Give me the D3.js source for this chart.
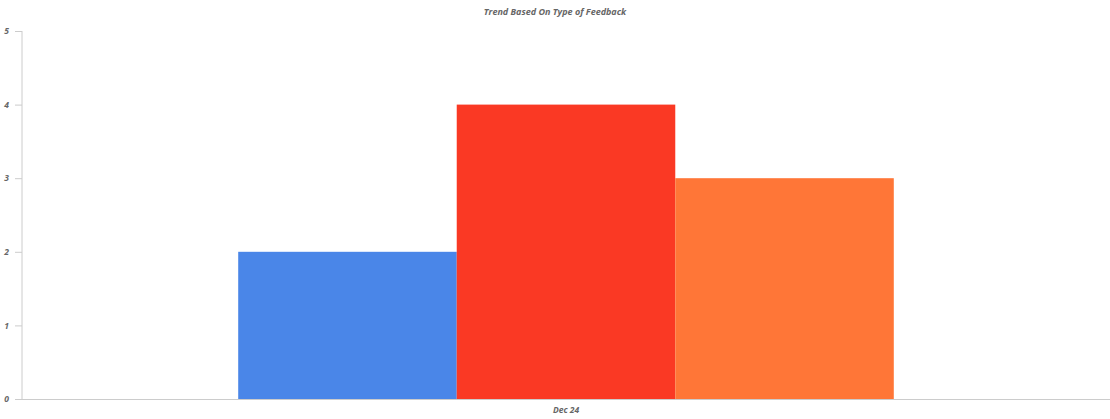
<!DOCTYPE html>
<html>
<head>
<meta charset="utf-8">
<script src="https://cdn.jsdelivr.net/npm/d3@7"></script>
<style>
  body { margin: 0; background: #fff; }
  text { font-family: "Open Sans", sans-serif; font-style: italic; font-weight: bold; fill: #666; }
</style>
</head>
<body>
<div id="graph"></div>
<script>
// chart data
const categories = ['Dec 24'];
const seriesNames = ['Type A', 'Type B', 'Type C'];
const seriesValues = [[2], [4], [3]];
const seriesColors = ['#4a86e8', '#fa3924', '#ff7637'];
const yTicks = [0, 1, 2, 3, 4, 5];

const svgWidth = 1110;
const svgHeight = 419;
const margin = { top: 31, right: 0, bottom: 20, left: 22 };

const svg = d3.select('#graph')
  .append('svg')
  .attr('width', svgWidth)
  .attr('height', svgHeight);

svg.append('text')
  .attr('x', 555)
  .attr('y', 15)
  .attr('text-anchor', 'middle')
  .style('font-size', '9px')
  .text('Trend Based On Type of Feedback');

const x0 = d3.scaleBand()
  .domain(categories)
  .range([margin.left, svgWidth - margin.right])
  .padding(0.248);

const x1 = d3.scaleBand()
  .domain(seriesNames)
  .range([0, x0.bandwidth()]);

const y = d3.scaleLinear()
  .domain([0, 5])
  .range([svgHeight - margin.bottom, margin.top]);

// bars
categories.forEach((c, ci) => {
  svg.append('g')
    .selectAll('rect')
    .data(seriesNames)
    .join('rect')
    .attr('x', s => x0(c) + x1(s))
    .attr('width', x1.bandwidth())
    .attr('y', (s, i) => y(seriesValues[i][ci]))
    .attr('height', (s, i) => y(0) - y(seriesValues[i][ci]))
    .attr('fill', (s, i) => seriesColors[i]);
});

// y axis
const yAxis = svg.append('g')
  .attr('transform', `translate(${margin.left},0)`)
  .call(d3.axisLeft(y).tickValues(yTicks).tickSize(7).tickPadding(6).tickFormat(d3.format('d')));
yAxis.select('.domain').attr('stroke', '#ccc').attr('d', `M0,${y(5)}V${y(0)}`);
yAxis.selectAll('.tick line').attr('stroke', '#ccc');
yAxis.selectAll('.tick text').style('font-size', '8.5px').attr('fill', '#666');

// x axis
const xAxis = svg.append('g')
  .attr('transform', `translate(0,${y(0)})`)
  .call(d3.axisBottom(x0).tickSize(0).tickPadding(8));
xAxis.select('.domain').attr('stroke', '#ccc').attr('d', `M15,0.5H${svgWidth}`);
xAxis.selectAll('.tick text').style('font-size', '8.5px').attr('fill', '#666');
</script>
</body>
</html>
